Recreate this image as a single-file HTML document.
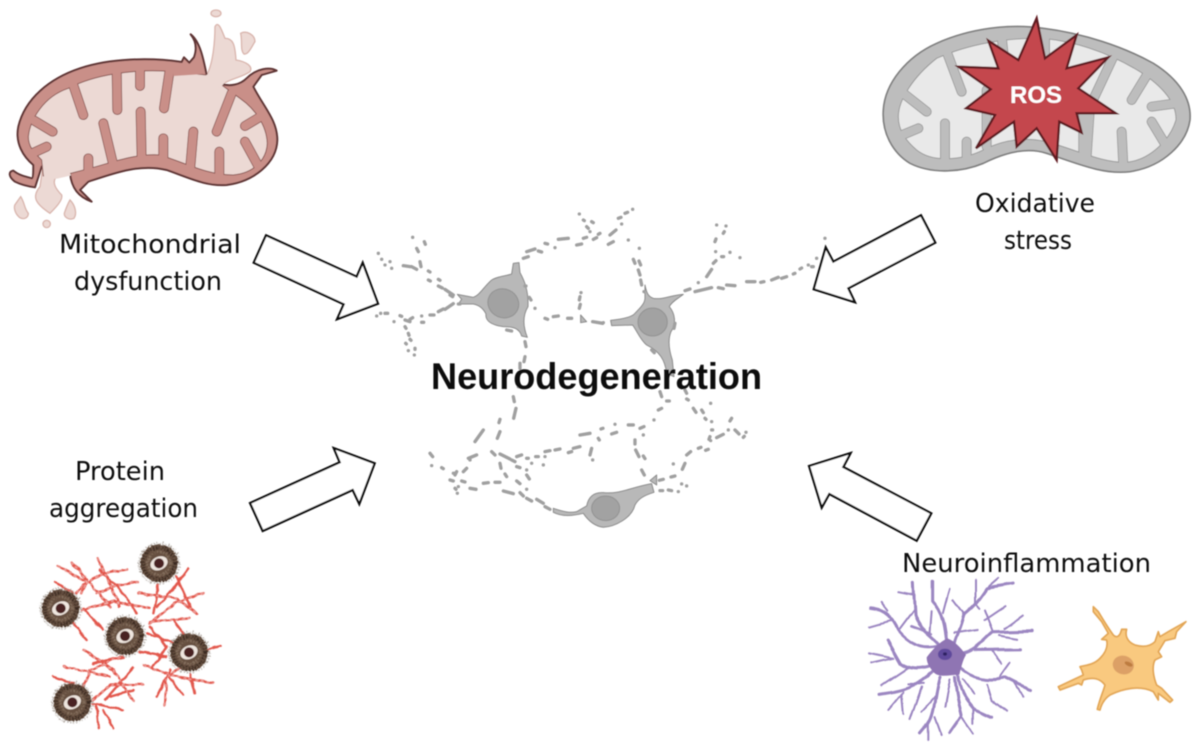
<!DOCTYPE html>
<html>
<head>
<meta charset="utf-8">
<style>
html,body{margin:0;padding:0;background:#fff;}
svg{display:block;}
text{font-family:"DejaVu Sans","Liberation Sans",sans-serif;fill:#111;}
</style>
</head>
<body>
<svg width="1200" height="748" viewBox="0 0 1200 748" xmlns="http://www.w3.org/2000/svg">
<defs>
  <filter id="soft" filterUnits="userSpaceOnUse" x="0" y="0" width="1200" height="748"><feGaussianBlur stdDeviation="0.45"/></filter>
  <filter id="wig" filterUnits="userSpaceOnUse" x="-50" y="-50" width="800" height="800">
    <feTurbulence type="fractalNoise" baseFrequency="0.045" numOctaves="1" seed="4"/>
    <feDisplacementMap in="SourceGraphic" scale="12" xChannelSelector="R" yChannelSelector="G"/>
  </filter>
  <filter id="org" filterUnits="userSpaceOnUse" x="-50" y="-50" width="700" height="700">
    <feTurbulence type="fractalNoise" baseFrequency="0.012" numOctaves="1" seed="7"/>
    <feDisplacementMap in="SourceGraphic" scale="18" xChannelSelector="R" yChannelSelector="G"/>
  </filter>
  <filter id="fuzz" filterUnits="userSpaceOnUse" x="-100" y="-100" width="200" height="200">
    <feTurbulence type="fractalNoise" baseFrequency="0.18" numOctaves="2" seed="2"/>
    <feDisplacementMap in="SourceGraphic" scale="12" xChannelSelector="R" yChannelSelector="G"/>
  </filter>
  <clipPath id="cpL"><path d="M85,410 C90,360 130,290 205,265 C280,225 400,205 520,215 L620,225 L665,255 L720,295 C770,330 800,380 802,430 C800,480 760,520 700,525 C620,525 560,490 480,465 C400,460 330,490 270,505 L205,522 L130,528 L125,480 C100,455 85,440 85,410 Z"/></clipPath>
  <clipPath id="cpR"><path d="M85,350 C85,300 130,230 200,175 C300,130 420,112 520,115 C620,125 720,160 810,215 C880,260 920,310 918,360 C900,420 840,480 770,487 C700,490 620,450 530,425 C460,410 400,420 340,450 C280,480 190,490 140,450 C105,420 85,390 85,350Z"/></clipPath>
  <g id="plq">
    <g filter="url(#fuzz)">
      <circle r="61" fill="none" stroke="#a39a92" stroke-width="4" stroke-dasharray="4 5"/>
      <circle r="57" fill="#66503f"/>
      <circle r="48" fill="none" stroke="#3a2b22" stroke-width="12" stroke-dasharray="4 5"/>
      <circle r="34" fill="none" stroke="#85705f" stroke-width="8" stroke-dasharray="5 4"/>
    </g>
    <ellipse rx="27" ry="20" fill="#efe6df" transform="rotate(-25)"/>
    <circle r="15" fill="#4a2320"/>
  </g>
</defs>
<rect width="1200" height="748" fill="#fff"/>
<g filter="url(#soft)">

<!-- LEFT MITOCHONDRION -->
<g transform="scale(0.3333)">
  <g fill="#ecd9d4" stroke="#d9b5ad" stroke-width="4">
    <path d="M620,225 C640,190 645,120 645,80 C655,60 665,90 675,115 C700,115 705,135 708,180 C740,185 760,200 750,215 C720,235 690,235 665,255 L600,300 Z"/>
    <path d="M130,490 L120,560 C95,590 105,610 150,640 C165,625 190,600 185,585 C165,565 155,545 170,530 L210,520 Z"/>
    <ellipse cx="648" cy="40" rx="15" ry="10"/>
    <path d="M722,100 C740,90 765,105 765,125 C755,140 745,165 732,162 C720,150 728,125 722,100Z"/>
    <path d="M62,590 C75,610 72,625 85,640 C85,655 70,660 58,652 C45,640 38,620 48,610Z"/>
    <path d="M210,600 C225,615 232,640 222,655 C208,662 192,652 193,640 C198,625 203,612 210,600Z"/>
    <circle cx="140" cy="672" r="11"/>
  </g>
  <path d="M620,225 C610,175 600,125 572,103 C590,125 590,150 582,172 L568,188 L552,172 L545,186 C450,172 330,175 240,205 C150,235 75,295 55,380 C45,430 70,470 100,495 C100,515 100,535 95,535 C75,530 55,525 40,512 C25,515 25,530 45,545 C65,555 90,560 105,562 L125,500 L210,520 C215,565 235,590 275,605 L240,570 L265,545 C340,520 420,490 500,510 C570,535 620,560 680,555 C760,545 830,490 832,420 C832,360 790,320 760,260 L785,225 L830,212 C810,200 770,205 740,235 C720,255 690,260 665,252 Z" fill="#c98f88" stroke="#5f3434" stroke-width="6" stroke-linejoin="round"/>
  <path d="M85,410 C90,360 130,290 205,265 C280,225 400,205 520,215 L620,225 L665,255 L720,295 C770,330 800,380 802,430 C800,480 760,520 700,525 C620,525 560,490 480,465 C400,460 330,490 270,505 L205,522 L130,528 L125,480 C100,455 85,440 85,410 Z" fill="#ecd9d4" stroke="#8d5a56" stroke-width="3"/>
  <path d="M132,518 L205,512 L214,526 L172,536 L132,538Z M610,232 L660,264 L676,246 L630,218Z" fill="#ecd9d4"/>
  <g clip-path="url(#cpL)">
    <path d="M218,250 L250,345 M350,205 L352,330 M420,205 L420,258 M510,205 L492,325 M695,280 L650,395 M785,348 L735,378 M775,498 L735,425 M658,535 L658,455 M570,512 L580,395 M490,486 L490,415 M425,476 L422,335 M340,495 L310,370 M265,515 L265,475 M92,462 L140,440 M103,362 L158,395" fill="none" stroke="#8d5a56" stroke-width="30" stroke-linecap="round"/>
  </g>
  <path d="M218,250 L250,345 M350,205 L352,330 M420,205 L420,258 M510,205 L492,325 M695,280 L650,395 M785,348 L735,378 M775,498 L735,425 M658,535 L658,455 M570,512 L580,395 M490,486 L490,415 M425,476 L422,335 M340,495 L310,370 M265,515 L265,475 M92,462 L140,440 M103,362 L158,395" fill="none" stroke="#c98f88" stroke-width="25" stroke-linecap="round"/>
  <path d="M520,200 L608,205 L612,222 L520,228Z" fill="#c98f88" stroke="none"/>
</g>

<!-- RIGHT MITOCHONDRION -->
<g transform="translate(870,0) scale(0.3333)">
  <path d="M40,330 C45,250 110,170 200,130 C300,85 420,70 520,85 C640,100 760,140 850,190 C930,240 965,300 960,360 C950,430 880,500 780,515 C700,525 620,490 530,460 C470,440 400,460 340,490 C280,515 190,525 120,490 C70,460 35,400 40,330 Z" fill="#bdbdbd" stroke="#7f7f7f" stroke-width="5"/>
  <path d="M85,350 C85,300 130,230 200,175 C300,130 420,112 520,115 C620,125 720,160 810,215 C880,260 920,310 918,360 C900,420 840,480 770,487 C700,490 620,450 530,425 C460,410 400,420 340,450 C280,480 190,490 140,450 C105,420 85,390 85,350Z" fill="#e9e9e9" stroke="#9a9a9a" stroke-width="3"/>
  <g fill="none" stroke-linecap="round">
    <g clip-path="url(#cpR)">
      <path d="M232,160 L275,275 M100,280 L170,335 M85,410 L145,385 M225,488 L225,370 M290,478 L290,425 M395,110 L400,155 M525,110 L525,170 M730,170 L655,330 M650,468 L660,320 M760,495 L755,395 M890,440 L845,365 M932,308 L845,320 M840,210 L785,300 M350,270 L350,440 M640,320 L640,455" stroke="#9a9a9a" stroke-width="30"/>
    </g>
    <path d="M232,160 L275,275 M100,280 L170,335 M85,410 L145,385 M225,488 L225,370 M290,478 L290,425 M395,110 L400,155 M525,110 L525,170 M730,170 L655,330 M650,468 L660,320 M760,495 L755,395 M890,440 L845,365 M932,308 L845,320 M840,210 L785,300 M350,270 L350,440 M640,320 L640,455" stroke="#bdbdbd" stroke-width="25"/>
  </g>
  <polygon points="500,55 525,175 620,105 590,205 715,172 625,265 738,340 620,340 635,398 568,365 560,480 500,385 440,440 432,365 318,445 375,345 288,325 362,268 265,200 385,205 355,122 445,180" fill="#c4474d" stroke="#611a20" stroke-width="7" stroke-linejoin="miter"/>
</g>
<text x="1010" y="103" font-size="24" font-weight="bold" textLength="52" lengthAdjust="spacingAndGlyphs" style="font-family:'Liberation Sans',sans-serif;fill:#fff">ROS</text>

<!-- NEURONS -->
<g transform="translate(370,200) scale(0.3333)">
  <g fill="#b8b8b8" stroke="#8a8a8a" stroke-width="3" stroke-linejoin="round">
    <path d="M262,283 L310,292 C330,285 340,262 365,240 C385,228 410,228 425,222 L430,190 L447,188 L450,218 C462,240 476,270 474,320 C462,340 455,370 472,412 L455,408 C448,385 430,380 400,380 C370,376 345,365 348,342 C340,325 325,315 310,312 L265,312 L275,298 Z"/>
    <path d="M825,255 C830,280 835,290 850,295 C880,300 905,285 940,283 C925,295 905,305 898,320 C915,340 920,370 903,395 C893,420 897,450 907,480 L912,530 L890,520 C885,480 870,455 830,435 C812,420 805,400 788,375 L725,377 L722,361 C750,358 780,353 792,343 C810,325 825,310 825,295 Z"/>
    <path d="M550,925 C580,935 600,940 620,935 L650,918 C655,893 670,876 700,878 C750,883 780,863 845,851 L852,877 C820,887 805,897 795,915 C785,955 735,980 700,982 C670,978 650,955 640,940 C610,947 580,952 550,937Z"/>
    <path d="M632,345 L650,365 L632,368Z"/>
    <path d="M840,842 L860,825 L860,855Z"/>
  </g>
  <g fill="#a2a2a2" stroke="#929292" stroke-width="3">
    <ellipse cx="400" cy="310" rx="47" ry="43" transform="rotate(25 400 310)"/>
    <ellipse cx="848" cy="366" rx="44" ry="42"/>
    <ellipse cx="707" cy="925" rx="42" ry="37"/>
  </g>
  <path fill="none" stroke="#a0a0a0" stroke-width="10" stroke-linecap="round" d="
  M25,160h.1M35,178h.1M45,195h.1M60,185h.1M65,205h.1M100,197l20,3M125,200l15,8M150,185l3,15M140,145l5,10M163,125l3,8M128,112h.1M175,213l5,3M175,240l6,3M205,238l5,3M205,258l12,6M225,268l25,17M240,285l8,5
  M20,348h.1M32,340h.1M45,340l8,0M90,347l5,2M72,365h.1M105,360l15,5M120,358l8,-5M155,367l6,0M155,348h.1M180,345l12,0M205,335l15,-8M225,328l25,-17M265,312l5,0M105,380l3,5M115,400l2,6M120,418l3,3M107,430l2,2M115,452h.1M135,445l0,3M133,465h.1
  M460,175l15,-5M470,155l25,-8M505,153l10,3M525,130l8,2M555,143h.1M565,118l30,-3M620,135l15,-3M640,115l10,-3M670,118l10,-5M685,103l5,-3M660,95h.1M650,80l5,5M665,65l5,3M628,42h.1M640,60l3,2M720,105l18,-15M715,133l15,-8M745,55l8,-3M755,72h.1M765,40l8,-3M788,28h.1M775,120h.1M808,145h.1M790,178l5,12M807,183l5,12M805,210l5,15M812,240l3,15M822,275h.1
  M465,258l3,0M478,292l5,8M495,325h.1M525,355l8,3M550,350l15,-2M593,355l12,0M628,325l3,-12M628,300l2,-10M633,278h.1M668,365l30,5M700,368h.1
  M945,272l15,-5M975,275l50,-12M1045,263l15,3M1070,255l25,2M1130,245l25,0M1172,247l10,-2M1205,240l20,-8M1235,235l15,-5M1270,222l5,-2M1290,207l5,-3M1315,195h.1M1325,200l5,0M1340,175h.1M1365,115h.1
  M985,248h.1M1010,230l15,-22M1030,190l8,-8M1055,170l6,0M1080,157h.1M1110,173h.1M1037,155h.1M1035,125l3,-8M1060,100l3,-5M1040,75h.1M1068,78h.1
  M465,425l3,15M465,470l-3,15M450,490l0,15M445,560l5,0M430,590l3,15M438,625l-7,30M390,658l-3,10M390,695l-8,20M340,690l-25,35M320,765l-25,10M290,805l-10,10M300,780h.1M250,820l5,0M180,760l8,10M215,803l5,3M185,797h.1M260,815l-5,10M240,840l10,3M275,843l10,3M265,860h.1M255,865l3,3M262,880h.1M300,865l18,3M340,850l15,-2M375,847l15,0M400,873l30,8M450,878l10,10M470,895l15,8M500,898l20,12M525,920l15,8
  M365,755l10,10M390,762l30,15M425,780l10,5M390,790l3,15M405,822l5,8M440,843l10,8M470,825l8,12M470,868h.1M440,800l10,3M470,810h.1M440,770l15,-5M470,775l5,0M497,770l8,0M525,770h.1M485,790h.1M520,795h.1M525,755l15,-3M555,750l15,-3M595,758l10,-3M610,745l20,-5M665,745l-5,20M668,780h.1M630,705l30,-5M685,715l3,5M693,687l6,-2M725,702l15,-5M735,673h.1M775,675l15,0M810,685l12,-5M820,705h.1M852,660h.1M865,630l10,-5M890,603l8,0
  M845,450l8,8M870,575l5,15M945,570l5,10M950,597l5,3M970,625l8,12M995,630l5,8M1022,610h.1M1005,655l3,3M1025,665h.1M1025,690l3,0M1085,655l-5,8M1075,690h.1M1095,690l12,12M1120,712l3,-3M1128,697h.1M1060,703l-20,10M1020,710l-3,8M1022,722h.1M1015,748l-8,3M985,745l8,-3M950,765l12,-10M945,790l-8,18M910,792h.1M915,828l-12,3M880,838l-12,3M870,872l8,0M895,870l10,2M925,875h.1M935,852h.1M950,858h.1
  M795,720l0,12M797,750l10,20M820,768l5,8M815,810l8,15M410,390l15,3M915,370l-3,15"/>
</g>

<!-- ARROWS -->
<g fill="#fff" stroke="#111" stroke-width="2.2" stroke-linejoin="miter">
  <polygon points="266,235.3 356.7,276.7 362.7,262.7 378,303.7 337,319.3 343.7,304.3 253.7,262.7"/>
  <polygon points="921,215.3 935.3,242.7 848.3,288.3 855,302.3 813.7,289.3 825.7,247.3 833.3,261.7"/>
  <polygon points="250,503 262.7,531 352.7,490 359.3,504 374.7,463.3 333.7,448 339.7,462.3"/>
  <polygon points="809,466 850.7,453 843.3,467 931.3,513.3 916.7,540.7 829.3,494 821.7,507.7"/>
</g>

<!-- PROTEIN AGGREGATES -->
<g transform="translate(10,530) scale(0.3333)">
  <g fill="none" stroke-linecap="round" stroke-linejoin="round" filter="url(#wig)">
    <path stroke="#e2574c" stroke-width="7" d="M145,110 L240,160 L300,230 M185,95 L230,150 L215,190 M262,85 L290,140 L330,230 M350,118 L280,130 L220,165 L200,190 M385,155 L310,170 L260,190 M135,155 L190,190 M220,235 L280,300 M215,240 L310,215 L420,235 M190,280 L230,330 M535,115 L480,190 L440,230 M580,190 L500,215 L420,280 M540,265 L420,275 M385,190 L500,205 L560,250 M445,165 L430,250 M490,270 L520,310 M400,405 L500,440 L610,458 M440,500 L480,420 M465,525 L470,440 L530,400 M520,495 L470,430 M555,490 L540,430 M390,365 L470,380 M420,290 L470,350 L430,410 M632,348 L590,360 M220,360 L310,420 L370,515 M160,408 L300,440 M130,440 L190,460 M400,463 L300,465 L250,510 M370,415 L320,470 L285,510 M330,380 L240,420 L220,470 M340,540 L250,520 M265,595 L260,530 M310,595 L280,540 M270,120 L340,190 L380,250 M500,140 L540,230 M410,310 L520,350 M250,400 L340,380 M300,500 L370,480"/>
    <path stroke="#fff" stroke-opacity=".6" stroke-width="2.5" stroke-dasharray="7 11" d="M145,110 L240,160 L300,230 M185,95 L230,150 L215,190 M262,85 L290,140 L330,230 M350,118 L280,130 L220,165 L200,190 M385,155 L310,170 L260,190 M215,240 L310,215 L420,235 M580,190 L500,215 L420,280 M540,265 L420,275 M385,190 L500,205 L560,250 M400,405 L500,440 L610,458 M465,525 L470,440 L530,400 M220,360 L310,420 L370,515 M160,408 L300,440 M400,463 L300,465 L250,510 M330,380 L240,420 L220,470"/>
  </g>
  <use href="#plq" transform="translate(447,100)"/>
  <use href="#plq" transform="translate(152,235)"/>
  <use href="#plq" transform="translate(345,318)"/>
  <use href="#plq" transform="translate(537,367)"/>
  <use href="#plq" transform="translate(187,517)"/>
</g>

<!-- ASTROCYTE + MICROGLIA -->
<g transform="translate(860,570) scale(0.3333)">
  <g fill="none" stroke="#9b86c1" stroke-linecap="round" stroke-linejoin="round" filter="url(#org)">
    <path stroke-width="9" d="M260,210 C255,170 250,130 218,95 L218,35 M235,225 C180,240 140,210 115,180 C100,150 85,120 32,115 M280,225 C290,190 300,180 310,135 C340,110 350,100 380,55 L455,42 M240,225 C210,190 180,180 165,135 L160,40 M310,250 C350,240 370,210 400,185 L515,182 M345,240 L480,238 M300,290 C340,325 380,335 435,322 L510,360 M295,320 C300,370 320,390 340,415 L395,440 M285,325 C290,390 305,430 305,440 L270,490 M240,320 C225,370 225,430 205,460 L180,490 M215,305 C170,350 130,360 60,370 M205,290 C170,300 140,295 120,280 L80,210"/>
    <path stroke-width="6" d="M250,130 L270,55 M100,150 L30,170 M120,175 L165,115 M85,125 L65,97 M380,55 L415,25 M345,105 L345,30 M310,130 L280,90 M345,100 L358,115 M210,190 L215,125 M215,190 L155,168 M165,75 L115,65 M400,185 L375,120 M375,150 L435,110 M435,175 L490,135 M420,195 L470,205 M395,240 L425,280 M420,320 L450,278 M465,340 L490,380 M380,340 L395,390 L440,425 M280,190 L355,180 M340,415 L340,460 M310,330 L340,370 M305,440 L340,490 M270,330 L255,410 M205,460 L205,510 M225,440 L245,495 M225,380 L185,425 M130,365 L85,420 M125,375 L130,435 M185,350 L150,450 M190,340 L145,340 M100,265 L30,250 M100,265 L35,280 M140,295 L65,345"/>
  </g>
  <path d="M200,262 C218,238 240,215 262,205 C282,212 302,232 318,255 C308,270 303,295 298,314 C270,314 240,324 222,308 C212,296 200,282 200,262Z" fill="#8f74b3"/>
  <ellipse cx="255" cy="253" rx="21" ry="17" fill="#5e4a9c"/>
  <ellipse cx="255" cy="252" rx="6" ry="5" fill="#2f2362"/>

  <path d="M700,110 L715,125 C730,150 745,175 760,195 C770,205 780,200 785,178 L800,178 C795,195 800,215 825,225 C850,232 870,230 885,215 L895,185 L900,200 L925,185 L978,155 L950,185 L945,205 L915,212 L895,245 L905,260 L885,270 C875,290 880,320 890,345 L905,355 L938,390 L930,397 L895,370 L895,390 L880,365 C840,345 790,355 750,375 C735,385 725,400 720,420 L712,418 C718,390 730,365 735,345 C720,325 700,320 670,330 L665,345 L655,340 L600,360 L595,350 L670,315 L665,300 L660,290 C680,285 700,285 720,265 C735,250 745,230 740,210 L725,208 L745,190 L725,155 L700,125 Z" fill="#f9c97f" stroke="#e2a555" stroke-width="5" stroke-linejoin="round"/>
  <ellipse cx="790" cy="285" rx="32" ry="28" fill="#dca066" transform="rotate(15 790 285)"/>
  <ellipse cx="806" cy="282" rx="13" ry="6" fill="#bd7c3f" transform="rotate(25 806 282)"/>
</g>

<!-- LABELS -->
<text x="59" y="253" font-size="26" textLength="182" lengthAdjust="spacingAndGlyphs">Mitochondrial</text>
<text x="74" y="290" font-size="26" textLength="148" lengthAdjust="spacingAndGlyphs">dysfunction</text>
<text x="975" y="212" font-size="26" textLength="120" lengthAdjust="spacingAndGlyphs">Oxidative</text>
<text x="1004" y="249" font-size="26" textLength="68" lengthAdjust="spacingAndGlyphs">stress</text>
<text x="75" y="480" font-size="26" textLength="90" lengthAdjust="spacingAndGlyphs">Protein</text>
<text x="49" y="517" font-size="26" textLength="149" lengthAdjust="spacingAndGlyphs">aggregation</text>
<text x="902" y="572" font-size="26" textLength="249" lengthAdjust="spacingAndGlyphs">Neuroinflammation</text>
<text x="431" y="389" font-size="37" font-weight="bold" textLength="331" lengthAdjust="spacingAndGlyphs" style="font-family:'Liberation Sans',sans-serif;fill:#0a0a0a">Neurodegeneration</text>
</g>
</svg>
</body>
</html>
